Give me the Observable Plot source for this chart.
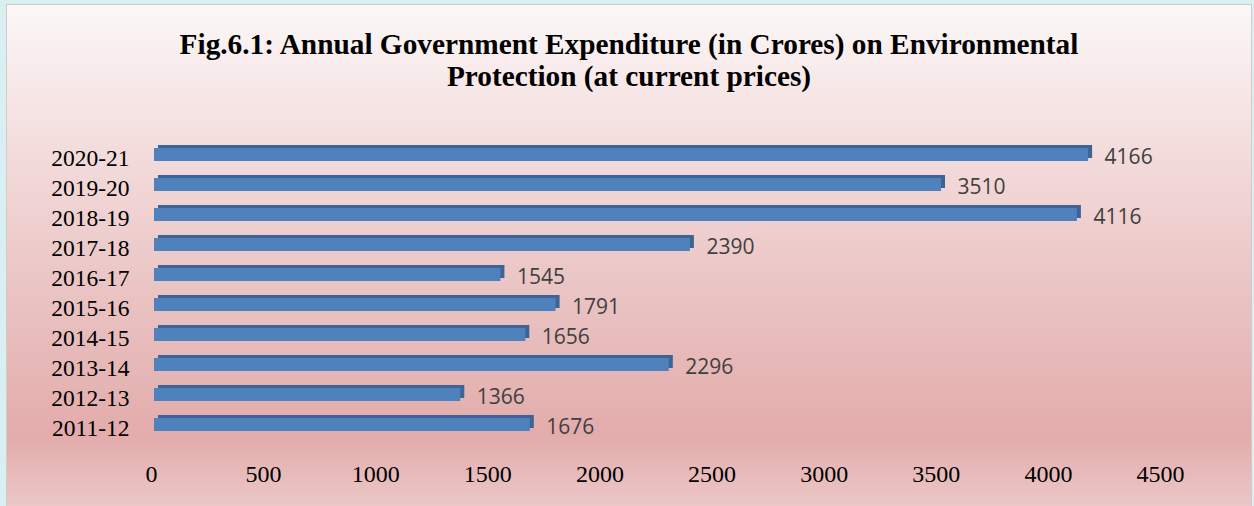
<!DOCTYPE html>
<html>
<head>
<meta charset="utf-8">
<script src="https://cdn.jsdelivr.net/npm/d3@7"></script>
<script src="https://cdn.jsdelivr.net/npm/@observablehq/plot@0.6"></script>
<style>
  html, body { margin: 0; padding: 0; }
  body { width: 1254px; height: 506px; background: #d9eff1; position: relative; overflow: hidden; }
  #panel {
    position: absolute; left: 6px; top: 4px; width: 1246px; height: 502px;
    border: 1px solid #d0cccc; border-bottom: none; box-sizing: border-box;
    background: linear-gradient(to bottom, #fcf7f7 0%, #f4dddd 28%, #eac3c3 58%, #e2acab 86%, #ecc7c7 100%);
  }
  #title {
    position: absolute; left: 0; width: 1258px; top: 28px; text-align: center;
    font-family: "Liberation Serif", "Times New Roman", serif; font-weight: bold;
    font-size: 29.3px; line-height: 32px; color: #000;
  }
  #chart { position: absolute; left: 0; top: 0; }
</style>
</head>
<body>
<div id="panel"></div>
<div id="title">Fig.6.1: Annual Government Expenditure (in Crores) on Environmental<br>Protection (at current prices)</div>
<div id="chart"></div>
<script>
const years = ["2011-12","2012-13","2013-14","2014-15","2015-16","2016-17","2017-18","2018-19","2019-20","2020-21"];
const values = [1676, 1366, 2296, 1656, 1791, 1545, 2390, 4116, 3510, 4166];
const xTicks = [0, 500, 1000, 1500, 2000, 2500, 3000, 3500, 4000, 4500];

const data = years.map((y, i) => ({year: y, value: values[i]}));
const serif = "'Liberation Serif', 'Times New Roman', serif";

const plot = Plot.plot({
  width: 1254,
  height: 506,
  marginLeft: 154,
  marginRight: 91,
  marginTop: 127,
  marginBottom: 54,
  style: {background: "transparent", overflow: "visible"},
  x: {domain: [0, 4500], ticks: xTicks},
  y: {domain: years.slice().reverse(), padding: 0.58},
  marks: [
    Plot.barX(data, {x1: 0, x2: "value", y: "year", fill: "#3d6494", dx: 4, dy: -3}),
    Plot.barX(data, {x1: 0, x2: "value", y: "year", fill: "#4f81bd"}),
    Plot.text(data, {x: "value", y: "year", text: d => String(d.value), textAnchor: "start",
      dx: 16, dy: 2, fill: "#404040", fontSize: 21, fontFamily: "'Open Sans', sans-serif"}),
    Plot.axisY({tickSize: 0, tickPadding: 25, fontSize: 23.5, fontFamily: serif, fill: "#000", dy: 3, label: null}),
    Plot.axisX({ticks: xTicks, tickSize: 0, tickPadding: 12, fontSize: 24, fontFamily: serif, fill: "#000", dx: -3, label: null, tickFormat: d => String(d)})
  ]
});
document.getElementById("chart").appendChild(plot);
</script>
</body>
</html>
